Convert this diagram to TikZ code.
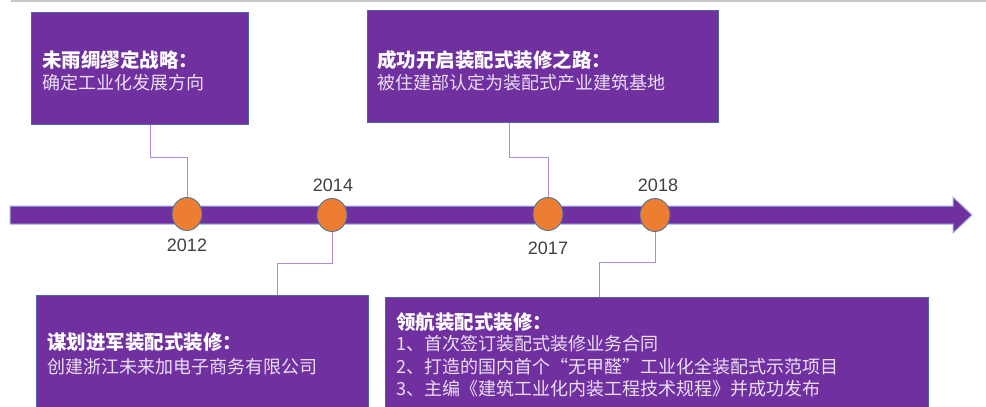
\documentclass[tikz,border=0pt]{standalone}
\usepackage{fontspec}
\setmainfont{Liberation Sans}
\newfontfamily\cjk{Noto Sans CJK SC}
\usetikzlibrary{shapes.geometric}
\definecolor{purp}{HTML}{7030A0}
\definecolor{boxline}{HTML}{4E64A6}
\definecolor{barline}{HTML}{9FB2DA}
\definecolor{connc}{HTML}{B08AD6}
\definecolor{orng}{HTML}{ED7D31}
\definecolor{dotline}{HTML}{41719C}
\definecolor{bodytxt}{HTML}{EADFF3}
\definecolor{yeartxt}{HTML}{404040}
\definecolor{topline}{HTML}{C9C3CB}
\begin{document}
\begin{tikzpicture}[x=1pt,y=-1pt,
  box/.style={draw=boxline, line width=0.8pt, fill=purp, anchor=north west, inner sep=0pt, minimum width=#1},
  ttl/.style={anchor=base west, inner sep=0pt, text=white, font=\cjk\bfseries\fontsize{19.5}{22}\selectfont},
  bdy/.style={anchor=base west, inner sep=0pt, text=bodytxt, font=\cjk\fontsize{18}{22}\selectfont},
  conn/.style={draw=connc, line width=0.9pt},
  dot/.style={ellipse, draw=dotline, line width=0.8pt, fill=orng, minimum width=30pt, minimum height=33pt, inner sep=0pt},
  year/.style={text=yeartxt, font=\fontsize{18}{20}\selectfont, inner sep=0pt}]
\useasboundingbox (0,0) rectangle (986,407);
\clip (0,0) rectangle (986,407);
% top rule
\draw[topline, line width=2pt] (11,1) -- (986,1);
% boxes
\node[box=217pt, minimum height=112pt] (b1) at (31,12) {};
\node[box=351pt, minimum height=112pt] (b2) at (367,10) {};
\node[box=332pt, minimum height=125pt] (b3) at (36,295) {};
\node[box=543pt, minimum height=125pt] (b4) at (385,297) {};
% texts
\node[ttl] (t1a) at (42,67) {未雨绸缪定战略：};
\node[bdy] (t1b) at (42,89) {确定工业化发展方向};
\node[ttl] (t2a) at (377,67) {成功开启装配式装修之路：};
\node[bdy] (t2b) at (377,89) {被住建部认定为装配式产业建筑基地};
\node[ttl] (t3a) at (47,349) {谋划进军装配式装修：};
\node[bdy] (t3b) at (47,373) {创建浙江未来加电子商务有限公司};
\node[ttl] (t4a) at (396,329) {领航装配式装修：};
\node[bdy] (t4b) at (396,350) {1、首次签订装配式装修业务合同};
\node[bdy] (t4c) at (396,373) {2、打造的国内首个“无甲醛”工业化全装配式示范项目};
\node[bdy] (t4d) at (396,395) {3、主编《建筑工业化内装工程技术规程》并成功发布};
% arrow bar
\draw[fill=purp, draw=barline, line width=1pt] (10,206) -- (953,206) -- (953,197) -- (972,215) -- (953,233) -- (953,224) -- (10,224) -- cycle;
% dots
\node[dot] (c1) at (187,214) {};
\node[dot] (c2) at (332,215) {};
\node[dot] (c3) at (548,214) {};
\node[dot] (c4) at (655,215) {};
% years
\node[year] (y1) at (187,245) {2012};
\node[year] (y2) at (333,185) {2014};
\node[year] (y3) at (548,248) {2017};
\node[year] (y4) at (658,185) {2018};
% connectors
\draw[conn] ([xshift=119pt]b1.south west) -- ++(0,33) -| (c1.north);
\draw[conn] ([xshift=142pt]b2.south west) -- ++(0,35) -| (c3.north);
\draw[conn] (c2.south) -- ++(0,32) -| ([xshift=241pt]b3.north west);
\draw[conn] (c4.south) -- ++(0,31) -| ([xshift=214pt]b4.north west);
\end{tikzpicture}
\end{document}
